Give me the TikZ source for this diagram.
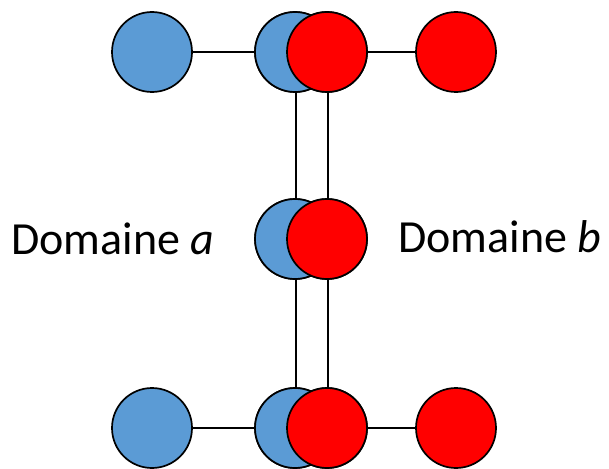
\documentclass[tikz,border=0pt]{standalone}
\usepackage{fontspec}
\setmainfont{Carlito}
\definecolor{dblue}{HTML}{5B9BD5}
\definecolor{dred}{HTML}{FF0000}
\begin{document}
\begin{tikzpicture}[x=1pt,y=-1pt,
  atom/.style={circle,draw=black,line width=1.7pt,minimum size=80pt,inner sep=0pt},
  bat/.style={atom,fill=dblue},
  rat/.style={atom,fill=dred},
  link/.style={draw=black,line width=1.2pt},
  lbl/.style={font=\fontsize{46}{52}\selectfont,inner sep=0pt,anchor=base west}]
\useasboundingbox (0,0) rectangle (609,468);
% top row
\node[bat] (a1) at (152,52) {};
\node[bat] (a2) at (295,52) {};
\node[rat] (b2) at (327,52) {};
\node[rat] (b1) at (456,52) {};
% middle row
\node[bat] (am) at (295,239) {};
\node[rat] (bm) at (327,239) {};
% bottom row
\node[bat] (a3) at (152,428) {};
\node[bat] (a4) at (295,428) {};
\node[rat] (b4) at (327,428) {};
\node[rat] (b3) at (456,428) {};
% connectors
\path[link] (a1.east) -- (a2.west);
\path[link] (b2.east) -- (b1.west);
\path[link] (a3.east) -- (a4.west);
\path[link] (b4.east) -- (b3.west);
\path[link] ([xshift=1pt]a2.south) -- ([xshift=1pt]am.north);
\path[link] ([xshift=1pt]b2.south) -- ([xshift=1pt]bm.north);
\path[link] ([xshift=1pt]am.south) -- ([xshift=1pt]a4.north);
\path[link] ([xshift=1pt]bm.south) -- ([xshift=1pt]b4.north);
% redraw circles on top of vertical links
\node[bat] at (295,52) {};
\node[rat] at (327,52) {};
\node[bat] at (295,239) {};
\node[rat] at (327,239) {};
\node[bat] at (295,428) {};
\node[rat] at (327,428) {};
% labels
\node[lbl] (la) at (11,254) {Domaine \textit{a}};
\node[lbl] (lb) at (398,252) {Domaine \textit{b}};
\end{tikzpicture}
\end{document}
